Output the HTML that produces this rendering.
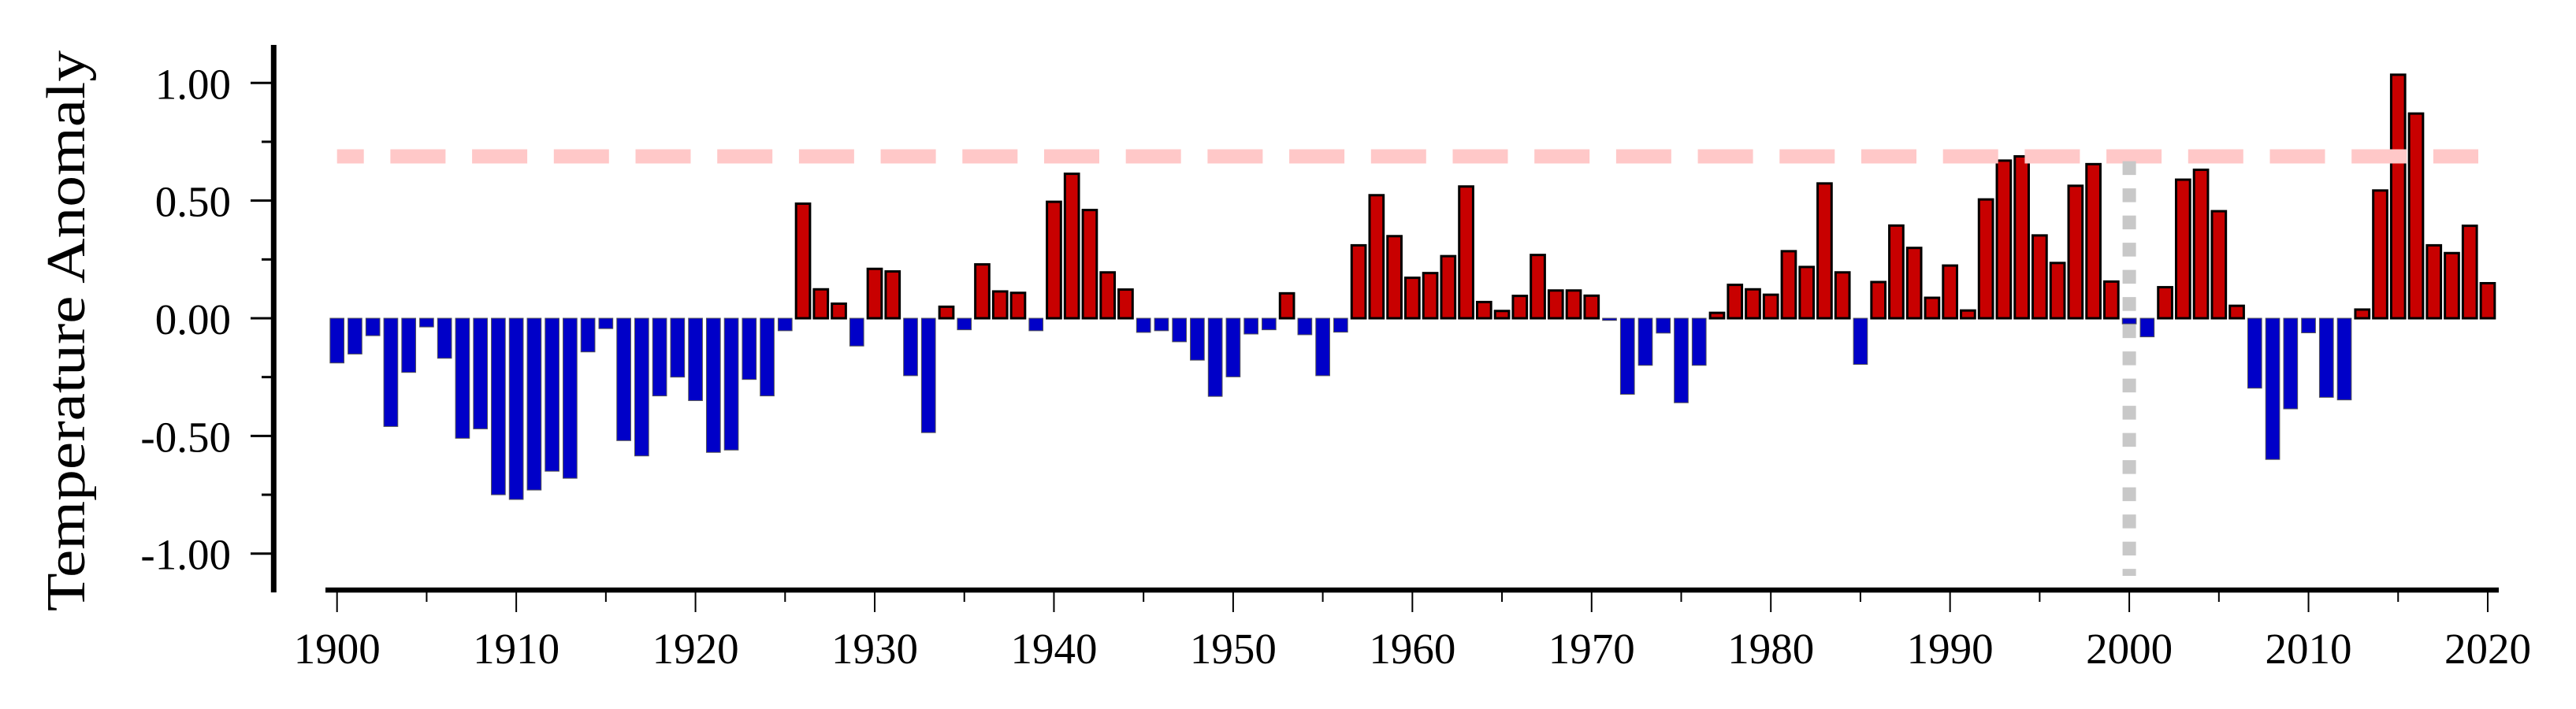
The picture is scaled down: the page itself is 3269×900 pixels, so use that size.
<!DOCTYPE html>
<html><head><meta charset="utf-8"><style>
html,body{margin:0;padding:0;background:#fff;}
svg{display:block;font-family:"Liberation Serif",serif;}
</style></head><body>
<svg id="chart" width="3269" height="900" viewBox="0 0 3269 900" xmlns="http://www.w3.org/2000/svg">
<rect x="0" y="0" width="3269" height="900" fill="#fff"/>
<g id="bars"></g>
<g id="refs"></g>
<g id="axes"></g>
<text transform="translate(107,420) rotate(-90)" text-anchor="middle" font-size="70" textLength="712" lengthAdjust="spacingAndGlyphs" fill="#000">Temperature Anomaly</text>
</svg>
<script>
const years = [];
for (let y = 1900; y <= 2020; y++) years.push(y);
const anomalies = [
-0.19,-0.152,-0.074,-0.46,-0.23,-0.037,-0.17,-0.51,-0.47,-0.75,
-0.77,-0.73,-0.65,-0.68,-0.143,-0.044,-0.52,-0.585,-0.33,-0.25,
-0.35,-0.57,-0.56,-0.26,-0.33,-0.053,0.487,0.123,0.062,-0.118,
0.21,0.199,-0.244,-0.486,0.049,-0.049,0.229,0.114,0.108,-0.053,
0.495,0.614,0.46,0.195,0.122,-0.06,-0.053,-0.10,-0.178,-0.332,
-0.249,-0.067,-0.049,0.106,-0.07,-0.244,-0.059,0.31,0.523,0.349,
0.172,0.192,0.264,0.56,0.069,0.031,0.095,0.269,0.118,0.118,
0.096,-0.009,-0.323,-0.20,-0.063,-0.359,-0.20,0.023,0.142,0.123,
0.10,0.285,0.218,0.573,0.195,-0.196,0.154,0.394,0.299,0.087,
0.224,0.033,0.505,0.67,0.688,0.352,0.235,0.563,0.655,0.156,
-0.024,-0.079,0.132,0.589,0.631,0.455,0.053,-0.297,-0.60,-0.385,
-0.062,-0.336,-0.347,0.037,0.543,1.035,0.87,0.31,0.277,0.393,0.149];
const yTicks = [1.00, 0.50, 0.00, -0.50, -1.00];
const yTickLabels = ["1.00", "0.50", "0.00", "-0.50", "-1.00"];
const yMinorTicks = [0.75, 0.25, -0.25, -0.75];
const xTicks = [1900, 1910, 1920, 1930, 1940, 1950, 1960, 1970, 1980, 1990, 2000, 2010, 2020];
const xMinorTicks = [1905, 1915, 1925, 1935, 1945, 1955, 1965, 1975, 1985, 1995, 2005, 2015];
const thresholdValue = [0.688];
const markerYear = [2000];

const NS = "http://www.w3.org/2000/svg";
function X(yr){ return 427.7 + (yr - 1900) * 22.744; }
function Y(v){ return 404 - v * 298.7; }
function mk(tag, attrs, parent){
  const e = document.createElementNS(NS, tag);
  for (const k in attrs) e.setAttribute(k, attrs[k]);
  parent.appendChild(e);
  return e;
}
const bars = document.getElementById('bars');
const refs = document.getElementById('refs');
const axes = document.getElementById('axes');
const bw = 17.7;
years.forEach((yr, i) => {
  const v = anomalies[i];
  const y0 = Y(0), y1 = Y(v);
  const pos = v >= 0;
  const r = mk('rect', {x: X(yr) - bw/2, y: Math.min(y0, y1), width: bw, height: Math.max(Math.abs(y1 - y0), 1),
    fill: pos ? '#c80000' : '#0000c8', stroke: pos ? '#000' : '#555', 'stroke-width': pos ? 3 : 1}, bars);
  
  
});
// threshold dashed line
const th = mk('line', {x1: X(1900), x2: 3145, y1: Y(thresholdValue[0]), y2: Y(thresholdValue[0]),
  stroke: '#ffc8c8', 'stroke-width': 18, 'stroke-dasharray': '70 33.7', 'stroke-dashoffset': 36}, refs);


// vertical marker
const vm = mk('line', {x1: X(markerYear[0]), x2: X(markerYear[0]), y1: 204.6, y2: 731,
  stroke: '#c8c8c8', 'stroke-width': 17, 'stroke-dasharray': '17.5 17'}, refs);


// axes
const ya = mk('line', {x1: 347.3, x2: 347.3, y1: 57, y2: 752, stroke: '#000', 'stroke-width': 7}, axes);


const xa = mk('line', {x1: 413, x2: 3171, y1: 749, y2: 749, stroke: '#000', 'stroke-width': 6.5}, axes);


yTicks.forEach((v, i) => {
  const t = mk('line', {x1: 318, x2: 347, y1: Y(v), y2: Y(v), stroke: '#000', 'stroke-width': 3}, axes);
  
  
  const l = mk('text', {x: 293, y: Y(v) + 20, 'text-anchor': 'end', 'font-size': 55, fill: '#000'}, axes);
  l.textContent = yTickLabels[i];
  
  
});
yMinorTicks.forEach(v => {
  const t = mk('line', {x1: 332, x2: 347, y1: Y(v), y2: Y(v), stroke: '#000', 'stroke-width': 3}, axes);
  
  
});
xTicks.forEach(yr => {
  const t = mk('line', {x1: X(yr), x2: X(yr), y1: 749, y2: 777, stroke: '#000', 'stroke-width': 2}, axes);
  
  
  const l = mk('text', {x: X(yr), y: 842, 'text-anchor': 'middle', 'font-size': 55, fill: '#000'}, axes);
  l.textContent = String(yr);
  
  
});
xMinorTicks.forEach(yr => {
  const t = mk('line', {x1: X(yr), x2: X(yr), y1: 749, y2: 764, stroke: '#000', 'stroke-width': 2}, axes);
  
  
});
</script>
</body></html>
